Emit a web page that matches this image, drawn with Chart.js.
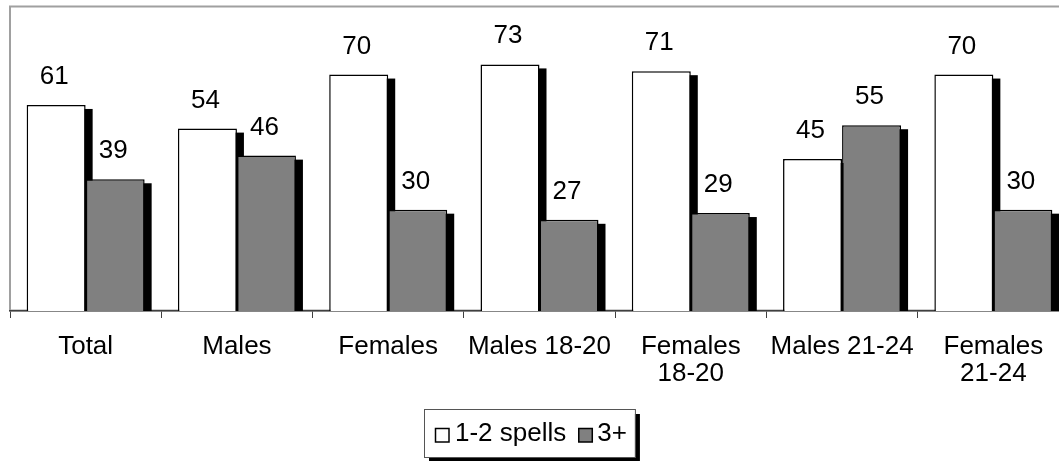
<!DOCTYPE html>
<html>
<head>
<meta charset="utf-8">
<script src="https://cdn.jsdelivr.net/npm/chart.js@4"></script>
<style>
html,body{margin:0;padding:0;background:#fff;overflow:hidden;width:1059px;height:461px;}
canvas{display:block;}
</style>
</head>
<body>
<canvas id="c" width="1080" height="461" style="width:1080px;height:461px"></canvas>
<script>
const categories = ["Total", "Males", "Females", "Males 18-20", ["Females", "18-20"], "Males 21-24", ["Females", "21-24"]];
const seriesNames = ["1-2 spells", "3+"];
const spells12 = [61, 54, 70, 73, 71, 45, 70];
const spells3plus = [39, 46, 30, 27, 29, 55, 30];
const yMin = 0, yMax = 90;

const FONT = "'Liberation Sans', Arial, sans-serif";
const FS = 26;

const shadowPlugin = {
  id: 'shadow',
  beforeDatasetsDraw(chart) {
    const ctx = chart.ctx;
    const area = chart.chartArea;
    ctx.save();
    ctx.beginPath();
    ctx.rect(area.left, area.top, area.right - area.left, area.bottom - area.top);
    ctx.clip();
    ctx.fillStyle = '#000';
    chart.data.datasets.forEach((ds, i) => {
      chart.getDatasetMeta(i).data.forEach(bar => {
        const w = bar.width;
        const l = bar.x - w / 2 + 7;
        const t = bar.y + 4;
        ctx.fillRect(l, t, w, bar.base - t);
      });
    });
    ctx.restore();
  }
};

const labelPlugin = {
  id: 'vals',
  afterDatasetsDraw(chart) {
    const ctx = chart.ctx;
    ctx.save();
    ctx.font = FS + 'px ' + FONT;
    ctx.fillStyle = '#000';
    ctx.textAlign = 'center';
    ctx.textBaseline = 'alphabetic';
    chart.data.datasets.forEach((ds, i) => {
      chart.getDatasetMeta(i).data.forEach((bar, j) => {
        ctx.fillText(String(ds.data[j]), bar.x - 2, bar.y - 21);
      });
    });
    ctx.restore();
  }
};

const framePlugin = {
  id: 'frame',
  beforeDraw(chart) {
    const ctx = chart.ctx;
    const a = chart.chartArea;
    ctx.save();
    ctx.strokeStyle = '#a0a0a0';
    ctx.lineWidth = 2;
    ctx.strokeRect(a.left, a.top - 0.5, a.right - a.left + 20, a.bottom - a.top);
    ctx.restore();
  }
};

const legendPlugin = {
  id: 'customLegend',
  afterDraw(chart) {
    const ctx = chart.ctx;
    ctx.save();
    ctx.font = FS + 'px ' + FONT;
    const w1 = ctx.measureText(seriesNames[0]).width;
    const w2 = ctx.measureText(seriesNames[1]).width;
    const boxW = 11 + 14 + 6 + w1 + 12 + 14 + 5 + w2 + 8;
    const left = 424, top = 409, h = 48;
    ctx.fillStyle = '#000';
    ctx.fillRect(left + 5, top + 5, boxW, h);
    ctx.fillStyle = '#fff';
    ctx.fillRect(left, top, boxW, h);
    ctx.strokeStyle = '#555';
    ctx.lineWidth = 1;
    ctx.strokeRect(left + 0.5, top + 0.5, boxW, h);
    const fills = chart.data.datasets.map(d => d.backgroundColor);
    let x = left + 11;
    const sy = 428;
    ctx.textBaseline = 'middle';
    ctx.textAlign = 'left';
    [[w1, 0], [w2, 1]].forEach(([w, i], k) => {
      ctx.fillStyle = fills[i];
      ctx.fillRect(x, sy, 14, 14);
      ctx.strokeStyle = '#000';
      ctx.lineWidth = 1.5;
      ctx.strokeRect(x + 0.5, sy + 0.5, 13.5, 13.5);
      x += 14 + (k === 0 ? 6 : 5);
      ctx.fillStyle = '#000';
      ctx.fillText(seriesNames[i], x, sy + 6);
      x += w + 12;
    });
    ctx.restore();
  }
};

new Chart(document.getElementById('c'), {
  type: 'bar',
  data: {
    labels: categories,
    datasets: [
      { label: seriesNames[0], data: spells12, backgroundColor: '#ffffff', borderColor: '#000', borderWidth: 1.5, borderSkipped: 'bottom' },
      { label: seriesNames[1], data: spells3plus, backgroundColor: '#808080', borderColor: '#000', borderWidth: 1.5, borderSkipped: 'bottom' }
    ]
  },
  options: {
    responsive: false,
    devicePixelRatio: 1,
    animation: false,
    layout: { padding: { left: 10, top: 7, right: 11, bottom: 0 } },
    plugins: { legend: { display: false }, tooltip: { enabled: false } },
    datasets: { bar: { categoryPercentage: 0.78, barPercentage: 1.0 } },
    scales: {
      x: {
        offset: true,
        grid: { offset: true, drawOnChartArea: false, drawTicks: true, tickLength: 7, color: '#404040', lineWidth: 1 },
        border: { display: true, color: '#404040', width: 1.5 },
        ticks: { color: '#000', font: { family: FONT, size: FS, lineHeight: 1.05 }, padding: 15, maxRotation: 0, autoSkip: false },
        afterFit(scale) { scale.height = 150; }
      },
      y: {
        display: false,
        min: yMin, max: yMax,
        afterFit(scale) { scale.width = 0; }
      }
    }
  },
  plugins: [framePlugin, shadowPlugin, labelPlugin, legendPlugin]
});
</script>
</body>
</html>
